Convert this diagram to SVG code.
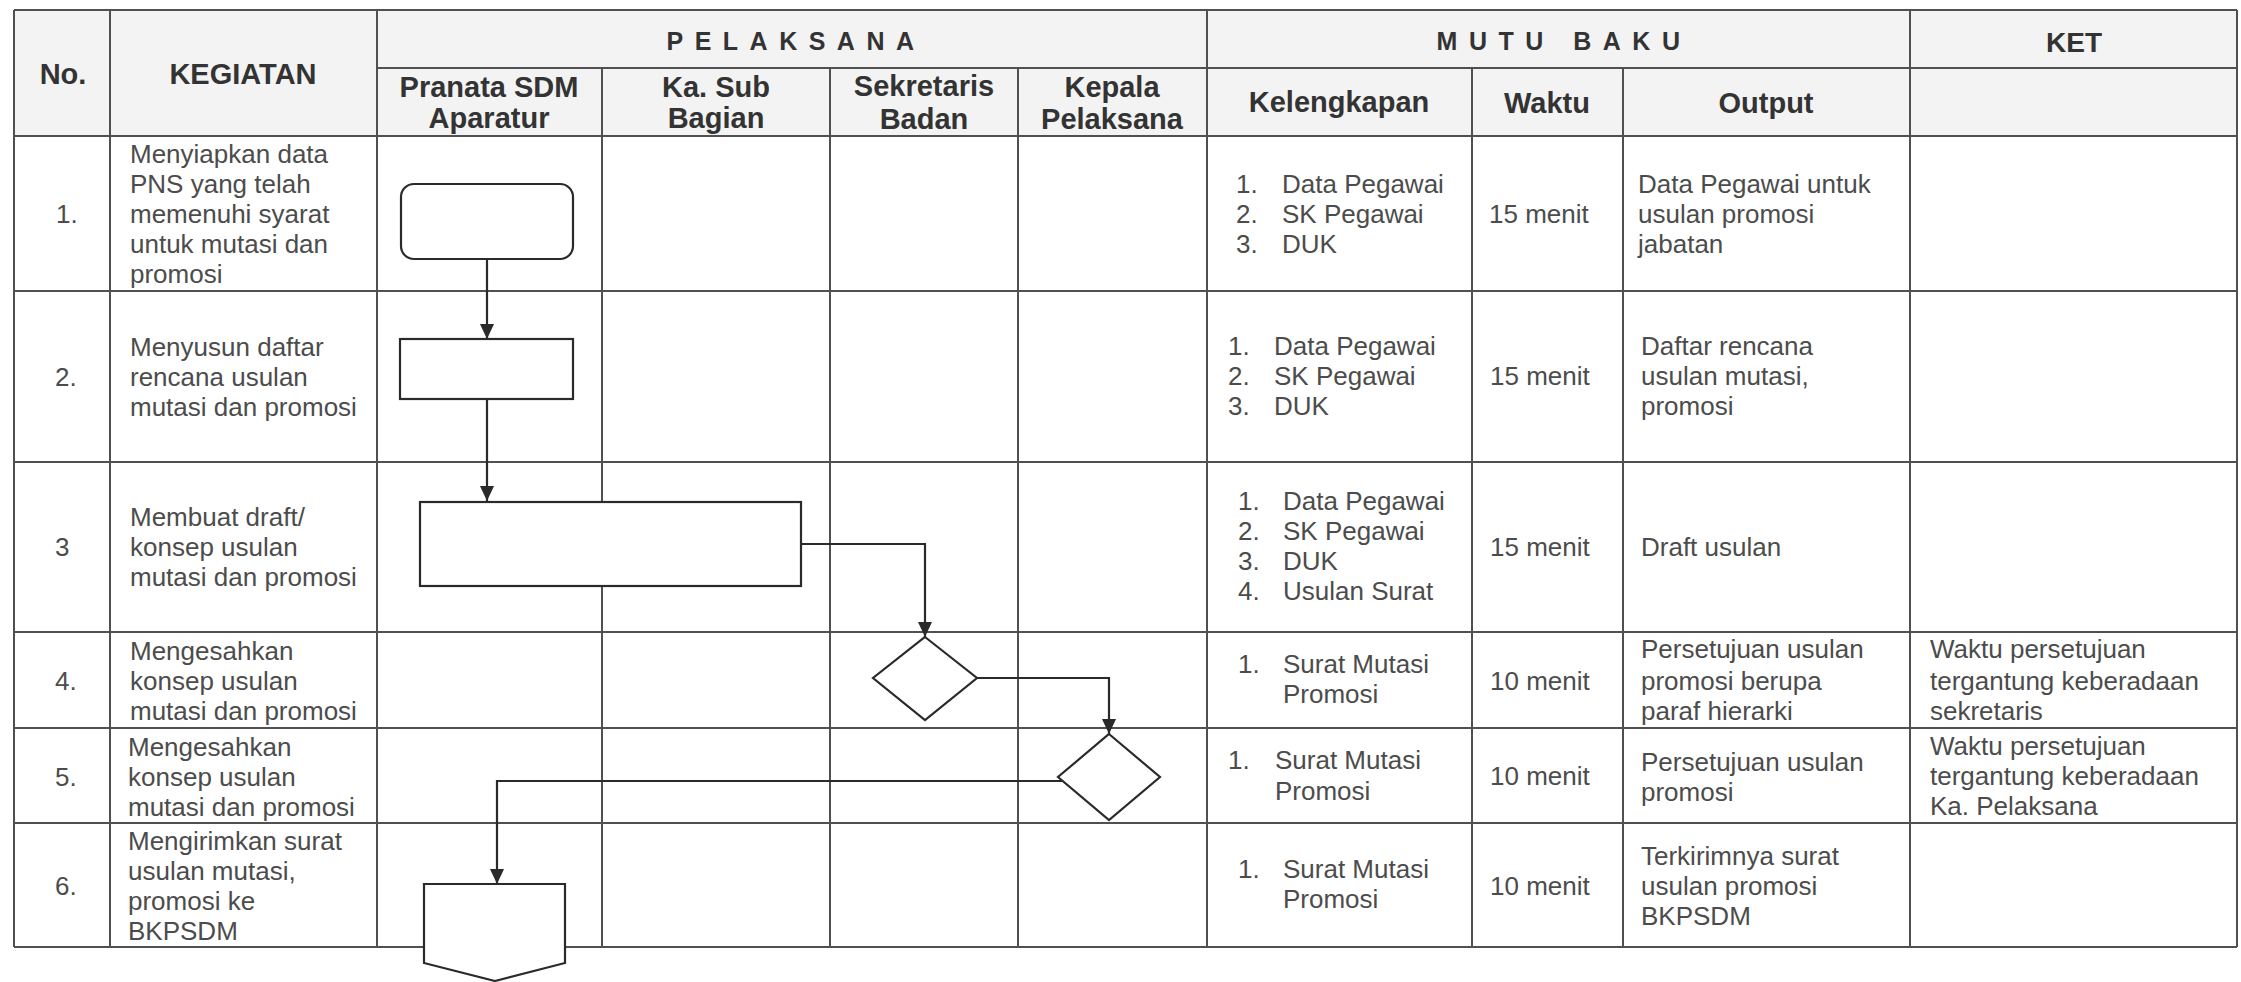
<svg xmlns="http://www.w3.org/2000/svg" width="2241" height="982" viewBox="0 0 2241 982">
<style>
.bg{fill:#ffffff}
.hd{fill:#f3f3f3}
.ln{stroke:#505050;stroke-width:2;fill:none}
.t{font-family:"Liberation Sans",Arial,sans-serif;font-size:26px;fill:#4c4c4c}
.h{font-family:"Liberation Sans",Arial,sans-serif;font-size:29px;font-weight:bold;fill:#333333;text-anchor:middle}
.sp{font-family:"Liberation Sans",Arial,sans-serif;font-size:25px;font-weight:bold;fill:#333333;text-anchor:middle;letter-spacing:11.5px}
.shape{fill:#ffffff;stroke:#2a2a2a;stroke-width:2.2}
.con{fill:none;stroke:#2a2a2a;stroke-width:2.2}
</style>
<defs>
<marker id="arr" markerUnits="userSpaceOnUse" markerWidth="16" markerHeight="16" refX="15" refY="7" orient="auto">
<path d="M0,0 L15,7 L0,14 Z" fill="#2a2a2a"/>
</marker>
</defs>
<rect class="bg" x="0" y="0" width="2241" height="982"/>
<g id="table">
<rect class="hd" x="14" y="10" width="2223" height="126"/>
<path class="ln" d="M14,10 H2237 M377,68 H2237 M14,136 H2237 M14,291 H2237 M14,462 H2237 M14,632 H2237 M14,728 H2237 M14,823 H2237 M14,947 H2237"/>
<path class="ln" d="M14,10 V947 M110,10 V947 M377,10 V947 M602,68 V947 M830,68 V947 M1018,68 V947 M1207,10 V947 M1472,68 V947 M1623,68 V947 M1910,10 V947 M2237,10 V947"/>
</g>
<g id="header">
<text class="h" x="63" y="84">No.</text>
<text class="h" x="243" y="84">KEGIATAN</text>
<text class="sp" x="796" y="50">PELAKSANA</text>
<text class="sp" x="1564" y="50">MUTU BAKU</text>
<text class="h" x="2074" y="52" style="font-size:28px">KET</text>
<text class="h" x="489" y="97">Pranata SDM</text>
<text class="h" x="489" y="128">Aparatur</text>
<text class="h" x="716" y="97">Ka. Sub</text>
<text class="h" x="716" y="128">Bagian</text>
<text class="h" x="924" y="96">Sekretaris</text>
<text class="h" x="924" y="129">Badan</text>
<text class="h" x="1112" y="97">Kepala</text>
<text class="h" x="1112" y="129">Pelaksana</text>
<text class="h" x="1339" y="112">Kelengkapan</text>
<text class="h" x="1547" y="113">Waktu</text>
<text class="h" x="1766" y="113">Output</text>
</g>
<g id="col-no" class="t">
<text x="56" y="223">1.</text>
<text x="55" y="386">2.</text>
<text x="55" y="556">3</text>
<text x="55" y="690">4.</text>
<text x="55" y="786">5.</text>
<text x="55" y="895">6.</text>
</g>
<g id="col-kegiatan" class="t">
<text x="130" y="163">Menyiapkan data</text>
<text x="130" y="193">PNS yang telah</text>
<text x="130" y="223">memenuhi syarat</text>
<text x="130" y="253">untuk mutasi dan</text>
<text x="130" y="283">promosi</text>
<text x="130" y="356">Menyusun daftar</text>
<text x="130" y="386">rencana usulan</text>
<text x="130" y="416">mutasi dan promosi</text>
<text x="130" y="526">Membuat draft/</text>
<text x="130" y="556">konsep usulan</text>
<text x="130" y="586">mutasi dan promosi</text>
<text x="130" y="660">Mengesahkan</text>
<text x="130" y="690">konsep usulan</text>
<text x="130" y="720">mutasi dan promosi</text>
<text x="128" y="756">Mengesahkan</text>
<text x="128" y="786">konsep usulan</text>
<text x="128" y="816">mutasi dan promosi</text>
<text x="128" y="850">Mengirimkan surat</text>
<text x="128" y="880">usulan mutasi,</text>
<text x="128" y="910">promosi ke</text>
<text x="128" y="940">BKPSDM</text>
</g>
<g id="col-kelengkapan" class="t">
<text x="1236" y="193">1.</text><text x="1282" y="193">Data Pegawai</text>
<text x="1236" y="223">2.</text><text x="1282" y="223">SK Pegawai</text>
<text x="1236" y="253">3.</text><text x="1282" y="253">DUK</text>
<text x="1228" y="355">1.</text><text x="1274" y="355">Data Pegawai</text>
<text x="1228" y="385">2.</text><text x="1274" y="385">SK Pegawai</text>
<text x="1228" y="415">3.</text><text x="1274" y="415">DUK</text>
<text x="1238" y="510">1.</text><text x="1283" y="510">Data Pegawai</text>
<text x="1238" y="540">2.</text><text x="1283" y="540">SK Pegawai</text>
<text x="1238" y="570">3.</text><text x="1283" y="570">DUK</text>
<text x="1238" y="600">4.</text><text x="1283" y="600">Usulan Surat</text>
<text x="1238" y="673">1.</text><text x="1283" y="673">Surat Mutasi</text>
<text x="1283" y="703">Promosi</text>
<text x="1228" y="769">1.</text><text x="1275" y="769">Surat Mutasi</text>
<text x="1275" y="800">Promosi</text>
<text x="1238" y="878">1.</text><text x="1283" y="878">Surat Mutasi</text>
<text x="1283" y="908">Promosi</text>
</g>
<g id="col-waktu" class="t">
<text x="1489" y="223">15 menit</text>
<text x="1490" y="385">15 menit</text>
<text x="1490" y="556">15 menit</text>
<text x="1490" y="690">10 menit</text>
<text x="1490" y="785">10 menit</text>
<text x="1490" y="895">10 menit</text>
</g>
<g id="col-output" class="t">
<text x="1638" y="193">Data Pegawai untuk</text>
<text x="1638" y="223">usulan promosi</text>
<text x="1638" y="253">jabatan</text>
<text x="1641" y="355">Daftar rencana</text>
<text x="1641" y="385">usulan mutasi,</text>
<text x="1641" y="415">promosi</text>
<text x="1641" y="556">Draft usulan</text>
<text x="1641" y="658">Persetujuan usulan</text>
<text x="1641" y="690">promosi berupa</text>
<text x="1641" y="720">paraf hierarki</text>
<text x="1641" y="771">Persetujuan usulan</text>
<text x="1641" y="801">promosi</text>
<text x="1641" y="865">Terkirimnya surat</text>
<text x="1641" y="895">usulan promosi</text>
<text x="1641" y="925">BKPSDM</text>
</g>
<g id="col-ket" class="t">
<text x="1930" y="658">Waktu persetujuan</text>
<text x="1930" y="690">tergantung keberadaan</text>
<text x="1930" y="720">sekretaris</text>
<text x="1930" y="755">Waktu persetujuan</text>
<text x="1930" y="785">tergantung keberadaan</text>
<text x="1930" y="815">Ka. Pelaksana</text>
</g>
<g id="connectors">
<path class="con" d="M487,259 V339" marker-end="url(#arr)"/>
<path class="con" d="M487,399 V501" marker-end="url(#arr)"/>
<path class="con" d="M801,544 H925 V637" marker-end="url(#arr)"/>
<path class="con" d="M977,678 H1109 V734" marker-end="url(#arr)"/>
<path class="con" d="M1062,781 H497 V884" marker-end="url(#arr)"/>
</g>
<g id="node1"><rect class="shape" x="401" y="184" width="172" height="75" rx="13" ry="13"/></g>
<g id="node2"><rect class="shape" x="400" y="339" width="173" height="60"/></g>
<g id="node3"><rect class="shape" x="420" y="502" width="381" height="84"/></g>
<g id="node4"><path class="shape" d="M925,637 L977,678 L925,720 L873,678 Z"/></g>
<g id="node5"><path class="shape" d="M1109,734 L1160,777 L1109,820 L1058,777 Z"/></g>
<g id="node6"><path class="shape" d="M424,884 L565,884 L565,963 L495,981 L424,963 Z"/></g>
</svg>
